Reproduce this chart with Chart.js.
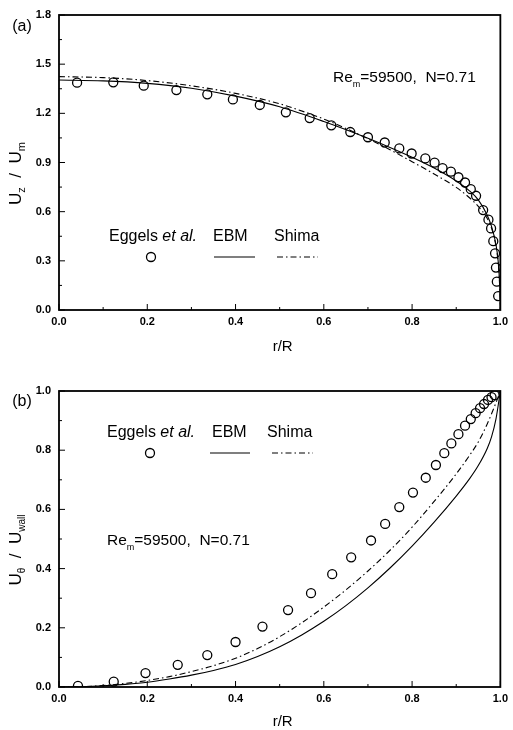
<!DOCTYPE html>
<html lang="en">
<head>
<meta charset="UTF-8">
<title>Velocity profiles, Re_m = 59500, N = 0.71</title>
<script src="https://cdn.jsdelivr.net/npm/chart.js"></script>
<style>
  body { margin: 0; background: #fff; }
  canvas { position: absolute; left: 0; }
  #chartA { top: 0; }
  #chartB { top: 365px; }
</style>
</head>
<body>
<canvas id="chartA" width="513" height="365"></canvas>
<canvas id="chartB" width="513" height="365"></canvas>
<script>
// ---- panel (a): axial velocity Uz/Um ----
const eggelsA_r = [0.041,0.123,0.192,0.266,0.336,0.394,0.455,0.514,0.568,0.617,0.660,0.700,0.738,0.771,0.799,0.830,0.851,0.869,0.888,0.905,0.920,0.933,0.945,0.961,0.973,0.979,0.984,0.988,0.990,0.992,0.995];
const eggelsA_u = [1.387,1.389,1.369,1.342,1.316,1.285,1.251,1.206,1.171,1.127,1.086,1.054,1.022,0.986,0.955,0.925,0.899,0.866,0.844,0.810,0.778,0.737,0.697,0.610,0.551,0.498,0.420,0.346,0.259,0.173,0.085];
const ebmA_r = [0,0.1,0.2,0.3,0.4,0.5,0.6,0.7,0.75,0.8,0.85,0.9,0.93,0.95,0.97,0.98,0.99,0.995,0.998,0.9995,1.0];
const ebmA_u = [1.403,1.398,1.383,1.353,1.305,1.240,1.150,1.048,0.992,0.932,0.866,0.787,0.727,0.672,0.580,0.510,0.400,0.300,0.180,0.080,0];
const shimaA_r = [0,0.1,0.2,0.3,0.4,0.5,0.6,0.65,0.7,0.75,0.8,0.85,0.9,0.93,0.95,0.97,0.98,0.99,0.995,0.998,0.9995,1.0];
const shimaA_u = [1.424,1.418,1.400,1.368,1.322,1.258,1.165,1.108,1.045,0.978,0.905,0.830,0.748,0.685,0.632,0.560,0.500,0.390,0.290,0.170,0.075,0];

// ---- panel (b): swirl velocity Utheta/Uwall ----
const eggelsB_r = [0.043,0.124,0.196,0.269,0.336,0.400,0.461,0.519,0.571,0.619,0.662,0.707,0.739,0.771,0.802,0.831,0.854,0.873,0.889,0.905,0.920,0.933,0.944,0.954,0.963,0.972,0.980,0.987];
const eggelsB_u = [0.004,0.018,0.047,0.075,0.108,0.152,0.204,0.260,0.317,0.381,0.438,0.495,0.551,0.608,0.657,0.707,0.750,0.790,0.823,0.854,0.883,0.905,0.925,0.942,0.956,0.970,0.979,0.986];
const ebmB_r = [0,0.05,0.1,0.15,0.2,0.25,0.3,0.35,0.4,0.45,0.5,0.55,0.6,0.65,0.7,0.75,0.8,0.85,0.9,0.93,0.95,0.97,0.98,0.99,1.0];
const ebmB_u = [0,0.001,0.004,0.009,0.016,0.027,0.040,0.056,0.076,0.103,0.136,0.176,0.222,0.275,0.335,0.402,0.476,0.557,0.645,0.703,0.748,0.805,0.845,0.905,1.0];
const shimaB_r = [0,0.05,0.1,0.15,0.2,0.25,0.3,0.35,0.4,0.45,0.5,0.55,0.6,0.65,0.7,0.75,0.8,0.85,0.9,0.93,0.95,0.97,0.99,1.0];
const shimaB_u = [0,0.001,0.005,0.012,0.022,0.035,0.052,0.072,0.097,0.130,0.170,0.217,0.270,0.328,0.392,0.462,0.540,0.627,0.720,0.782,0.828,0.888,0.960,1.0];

const xTicks = [0, 0.2, 0.4, 0.6, 0.8, 1.0];
const yTicksA = [0, 0.3, 0.6, 0.9, 1.2, 1.5, 1.8];
const yTicksB = [0, 0.2, 0.4, 0.6, 0.8, 1.0];

const FONT = '"Liberation Sans", Arial, sans-serif';

function pts(xs, ys) {
  return xs.map((x, i) => ({ x: x, y: ys[i] }));
}

// draws pieces of text in a row: [text, size, style, dy]
function richText(ctx, parts, x, y, align) {
  let w = 0;
  parts.forEach(p => {
    ctx.font = (p[2] || '') + ' ' + p[1] + 'px ' + FONT;
    w += ctx.measureText(p[0]).width;
  });
  let cx = align === 'center' ? x - w / 2 : x;
  ctx.textBaseline = 'middle';
  ctx.textAlign = 'left';
  parts.forEach(p => {
    ctx.font = (p[2] || '') + ' ' + p[1] + 'px ' + FONT;
    ctx.fillText(p[0], cx, y + (p[3] || 0));
    cx += ctx.measureText(p[0]).width;
  });
}

// inward tick marks + frame
const framePlugin = {
  id: 'frame',
  afterDatasetsDraw(chart) {
    const { ctx, chartArea: a, scales } = chart;
    ctx.save();
    ctx.strokeStyle = '#000';
    ctx.lineWidth = 1;
    const marks = (ticks, scale, horiz) => {
      for (let i = 0; i < ticks.length; i++) {
        const major = ticks[i];
        const p = scale.getPixelForValue(major);
        ctx.beginPath();
        if (horiz) { ctx.moveTo(p, a.bottom); ctx.lineTo(p, a.bottom - 6); }
        else { ctx.moveTo(a.left, p); ctx.lineTo(a.left + 6, p); }
        ctx.stroke();
        if (i < ticks.length - 1) {
          const m = scale.getPixelForValue((major + ticks[i + 1]) / 2);
          ctx.beginPath();
          if (horiz) { ctx.moveTo(m, a.bottom); ctx.lineTo(m, a.bottom - 3); }
          else { ctx.moveTo(a.left, m); ctx.lineTo(a.left + 3, m); }
          ctx.stroke();
        }
      }
    };
    marks(xTicks, scales.x, true);
    marks(chart.options.plugins.frame.yTicks, scales.y, false);
    ctx.lineWidth = 1.8;
    ctx.strokeRect(a.left, a.top, a.right - a.left, a.bottom - a.top);
    ctx.restore();
  }
};

// axis titles, panel letter, legend, annotation
const textPlugin = {
  id: 'texts',
  afterDraw(chart) {
    const { ctx, chartArea: a } = chart;
    const o = chart.options.plugins.texts;
    ctx.save();
    ctx.fillStyle = '#000';
    ctx.strokeStyle = '#000';
    // x title
    richText(ctx, [['r/R', 15]], (a.left + a.right) / 2 + 3, o.xTitleY, 'center');
    // y title (rotated)
    ctx.save();
    ctx.translate(16, (a.top + a.bottom) / 2 + 11);
    ctx.rotate(-Math.PI / 2);
    richText(ctx, o.yTitle, 0, 0, 'center');
    ctx.restore();
    // panel letter
    richText(ctx, [[o.letter, 16]], 22, o.letterY, 'center');
    // annotation
    richText(ctx, [['Re', 15.5], ['m', 9, '', 7], ['=59500,  N=0.71', 15.5]], o.reX, o.reY, 'left');
    // legend
    const L = o.legend;
    richText(ctx, [['Eggels ', 16], ['et al.', 16, 'italic']], L.x1, L.ty, 'left');
    richText(ctx, [['EBM', 16]], L.x2, L.ty, 'left');
    richText(ctx, [['Shima', 16]], L.x3, L.ty, 'left');
    ctx.lineWidth = 1.3;
    ctx.beginPath();
    ctx.arc(L.cx, L.sy, 4.5, 0, Math.PI * 2);
    ctx.stroke();
    ctx.lineWidth = 1.1;
    ctx.beginPath();
    ctx.moveTo(L.l2[0], L.sy); ctx.lineTo(L.l2[1], L.sy);
    ctx.stroke();
    ctx.setLineDash([6, 3, 1.5, 3]);
    ctx.beginPath();
    ctx.moveTo(L.l3[0], L.sy); ctx.lineTo(L.l3[1], L.sy);
    ctx.stroke();
    ctx.restore();
  }
};

function makeChart(id, eg, ebm, shima, yMax, yTicks, layout, texts) {
  return new Chart(document.getElementById(id), {
    type: 'scatter',
    data: {
      datasets: [
        {
          label: 'Eggels et al.',
          data: eg,
          pointStyle: 'circle',
          pointRadius: 4.5,
          pointBorderWidth: 1.3,
          pointBorderColor: '#000',
          pointBackgroundColor: 'rgba(0,0,0,0)',
          showLine: false
        },
        {
          label: 'EBM',
          data: ebm,
          showLine: true,
          borderColor: '#000',
          borderWidth: 1.1,
          pointRadius: 0,
          cubicInterpolationMode: 'monotone'
        },
        {
          label: 'Shima',
          data: shima,
          showLine: true,
          borderColor: '#000',
          borderWidth: 1.1,
          borderDash: [6, 3, 1.5, 3],
          pointRadius: 0,
          cubicInterpolationMode: 'monotone'
        }
      ]
    },
    options: {
      responsive: false,
      animation: false,
      layout: { padding: layout.padding },
      scales: {
        x: {
          type: 'linear', min: 0, max: 1,
          afterBuildTicks: s => { s.ticks = xTicks.map(v => ({ value: v })); },
          afterFit: s => { s.height = layout.xHeight; },
          grid: { display: false, drawTicks: false },
          border: { display: false },
          ticks: {
            color: '#000', padding: 5,
            font: { family: FONT, size: 11, weight: 'bold' },
            callback: v => v.toFixed(1)
          }
        },
        y: {
          type: 'linear', min: 0, max: yMax,
          afterBuildTicks: s => { s.ticks = yTicks.map(v => ({ value: v })); },
          afterFit: s => { s.width = 59; },
          grid: { display: false, drawTicks: false },
          border: { display: false },
          ticks: {
            color: '#000', padding: 8,
            font: { family: FONT, size: 11, weight: 'bold' },
            callback: v => v.toFixed(1)
          }
        }
      },
      plugins: {
        legend: { display: false },
        tooltip: { enabled: false },
        frame: { yTicks: yTicks },
        texts: texts
      }
    },
    plugins: [framePlugin, textPlugin]
  });
}

makeChart('chartA', pts(eggelsA_r, eggelsA_u), pts(ebmA_r, ebmA_u), pts(shimaA_r, shimaA_u),
  1.8, yTicksA,
  { padding: { top: 15, right: 12, left: 0, bottom: 0 }, xHeight: 55 },
  {
    xTitleY: 347, letter: '(a)', letterY: 27, reX: 333, reY: 78,
    yTitle: [['U', 17], ['z', 11, '', 6], ['  /  U', 17], ['m', 11, '', 6]],
    legend: { x1: 109, x2: 213, x3: 274, ty: 237, cx: 151, sy: 257, l2: [214, 255], l3: [277, 318] }
  });

makeChart('chartB', pts(eggelsB_r, eggelsB_u), pts(ebmB_r, ebmB_u), pts(shimaB_r, shimaB_u),
  1.0, yTicksB,
  { padding: { top: 26, right: 10, left: 0, bottom: 0 }, xHeight: 43 },
  {
    xTitleY: 357, letter: '(b)', letterY: 37, reX: 107, reY: 176,
    yTitle: [['U', 17], ['\u03b8', 10, '', 6], ['  /  U', 17], ['wall', 10, '', 6]],
    legend: { x1: 107, x2: 212, x3: 267, ty: 68, cx: 150, sy: 88, l2: [210, 250], l3: [272, 313] }
  });
</script>
</body>
</html>
